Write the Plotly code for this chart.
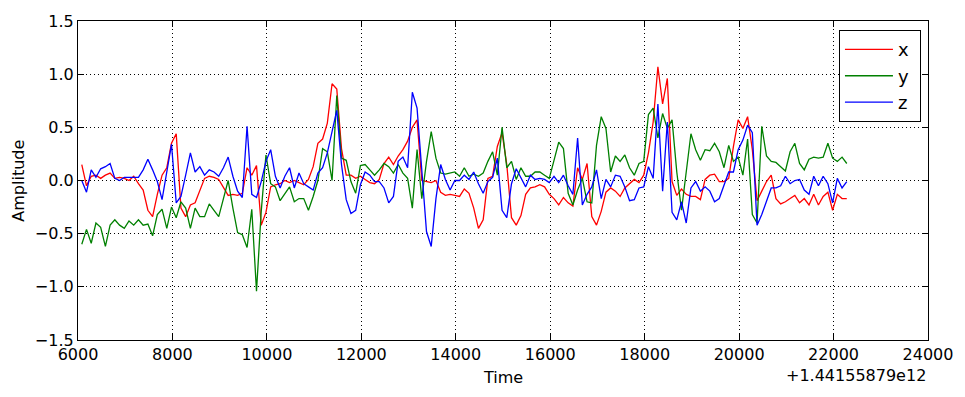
import plotly.graph_objects as go

# ── Data ──────────────────────────────────────────────────────────────────────
T_OFFSET = "+1.44155879e12"
# sample times (ms, relative to the offset above)
t = list(range(6080, 22281, 100))

x_vals = [
    0.15, -0.05, 0.04, 0.05, 0.02, 0.05, 0.07, 0.02, 0.03, 0.02,
    0.0, 0.04, -0.03, -0.09, -0.28, -0.34, -0.13, 0.05, 0.12, 0.35,
    0.44, -0.26, -0.34, -0.23, -0.21, -0.10, 0.02, 0.04, 0.03, 0.01,
    -0.06, -0.14, -0.13, -0.14, -0.12, 0.12, 0.05, 0.14, -0.42, -0.30,
    -0.06, -0.04, -0.03, 0.0, -0.02, 0.0, -0.02, -0.04, 0.01, 0.13,
    0.35, 0.39, 0.54, 0.91, 0.86, 0.30, 0.05, 0.05, 0.02, 0.04,
    0.01, -0.02, -0.03, 0.01, 0.16, 0.22, 0.15, 0.23, 0.29, 0.37,
    0.50, 0.57, 0.0, -0.01, -0.02, 0.0, -0.11, -0.14, -0.13, -0.14,
    -0.15, -0.08, -0.12, -0.26, -0.45, -0.37, 0.02, 0.04, 0.32, 0.45,
    0.15, -0.35, -0.42, -0.33, -0.13, -0.07, -0.06, -0.04, -0.06, -0.13,
    -0.17, -0.23, -0.16, -0.21, -0.24, 0.12, 0.01, 0.16, -0.34, -0.42,
    -0.29, -0.11, -0.07, -0.10, -0.15, -0.07, -0.03, 0.01, -0.02, 0.05,
    0.26, 0.55, 1.07, 0.72, 0.96, -0.01, -0.14, -0.08, -0.13, -0.15,
    -0.15, -0.18, 0.01, 0.05, 0.06, -0.01, -0.01, 0.02, 0.32, 0.57,
    0.49, 0.60, 0.29, -0.19, -0.10, -0.01, 0.05, -0.17, -0.22, -0.20,
    -0.17, -0.14, -0.21, -0.17, -0.23, -0.13, -0.23, -0.15, -0.11, -0.28,
    -0.13, -0.17, -0.17,
]

y_vals = [
    -0.60, -0.46, -0.59, -0.40, -0.44, -0.62, -0.42, -0.37, -0.42, -0.45,
    -0.38, -0.42, -0.37, -0.42, -0.41, -0.52, -0.32, -0.27, -0.45, -0.25,
    -0.35, -0.20, -0.26, -0.45, -0.26, -0.34, -0.34, -0.22, -0.28, -0.34,
    -0.17, 0.0, -0.26, -0.49, -0.51, -0.63, -0.27, -1.04, -0.29, 0.24,
    -0.03, -0.06, -0.19, -0.13, -0.06, -0.20, -0.17, -0.17, -0.28, -0.15,
    0.0, 0.30, 0.27, 0.0, 0.80, 0.21, 0.19, -0.01, -0.12, 0.14,
    0.15, 0.10, 0.05, 0.10, 0.16, 0.13, 0.07, 0.15, 0.07, 0.02,
    -0.26, 0.29, -0.17, 0.18, 0.46, 0.21, 0.07, 0.06, 0.07, 0.08,
    0.04, 0.12, 0.04, 0.06, 0.04, 0.07, 0.18, 0.27, 0.05, 0.50,
    0.12, 0.18, 0.01, 0.12, 0.04, 0.04, 0.08, 0.08, 0.05, 0.02,
    0.19, 0.36, 0.30, -0.12, -0.23, -0.09, 0.02, -0.20, -0.21, 0.33,
    0.60, 0.49, 0.08, 0.23, 0.18, 0.24, 0.12, 0.05, 0.16, 0.18,
    0.62, 0.68, 0.40, 0.63, 0.49, 0.57, 0.08, -0.28, 0.08, 0.44,
    0.29, 0.19, 0.29, 0.28, 0.35, 0.27, 0.12, 0.33, 0.18, 0.22,
    0.05, 0.39, -0.32, -0.40, 0.51, 0.23, 0.18, 0.17, 0.13, 0.09,
    0.27, 0.35, 0.16, 0.10, 0.20, 0.22, 0.21, 0.22, 0.35, 0.21,
    0.18, 0.22, 0.16,
]

z_vals = [
    0.0, -0.11, 0.10, 0.03, 0.11, 0.13, 0.16, 0.02, 0.0, 0.03,
    0.03, 0.03, 0.03, 0.10, 0.20, 0.10, -0.01, -0.18, 0.08, 0.34,
    -0.21, -0.15, 0.05, 0.26, 0.08, 0.13, 0.05, 0.10, 0.08, 0.04,
    0.12, 0.22, 0.04, -0.10, -0.16, 0.51, -0.13, -0.16, -0.01, 0.18,
    0.29, 0.04, -0.07, 0.04, 0.12, -0.07, 0.07, -0.03, -0.06, -0.09,
    0.07, 0.12, 0.26, 0.47, 0.66, 0.15, -0.18, -0.31, -0.28, -0.04,
    0.08, 0.05, -0.01, -0.01, -0.07, -0.21, -0.15, 0.18, 0.22, 0.12,
    0.83, 0.68, 0.05, -0.48, -0.62, -0.17, 0.15, 0.01, -0.09, 0.0,
    0.0, 0.05, 0.01, 0.08, -0.03, -0.12, -0.01, 0.03, 0.21, -0.28,
    -0.35, -0.03, 0.11, 0.02, -0.06, 0.05, 0.01, 0.02, 0.01, -0.02,
    0.04, -0.02, 0.05, -0.05, -0.13, 0.40, -0.23, -0.13, -0.06, 0.10,
    -0.17, 0.01, -0.06, 0.05, 0.04, -0.06, -0.19, -0.18, -0.07, -0.06,
    0.13, 0.02, 0.72, -0.10, 0.55, -0.30, -0.37, -0.20, -0.40, -0.07,
    -0.01, -0.10, -0.06, -0.10, -0.20, -0.17, -0.05, 0.08, 0.08, 0.29,
    0.38, 0.52, 0.45, -0.42, -0.32, -0.20, -0.07, -0.07, -0.05, 0.04,
    -0.03, 0.0, 0.01, -0.09, -0.13, 0.04, -0.05, 0.04, -0.03, -0.21,
    0.02, -0.07, -0.01,
]

SERIES = [("x", x_vals, "#ff0000"), ("y", y_vals, "#008000"), ("z", z_vals, "#0000ff")]
FONT = "DejaVu Sans"

fig = go.Figure()
for name, vals, color in SERIES:
    fig.add_trace(go.Scatter(
        x=t, y=vals, mode="lines", name=name + "\u00a0", legendgroup=name,
        line=dict(color=color, width=1.3),
    ))

axis_style = dict(
    showline=True, linecolor="black", linewidth=1.2, mirror="ticks",
    ticks="inside", ticklen=6, tickcolor="black",
    showgrid=True, gridcolor="black", griddash="1px,3px", gridwidth=1,
    zeroline=False, tickfont=dict(family=FONT, size=16, color="black"),
)

fig.update_layout(
    width=965, height=397,
    margin=dict(l=78, r=35, t=18, b=57),
    paper_bgcolor="white", plot_bgcolor="white",
    font=dict(family=FONT, size=16, color="black"),
    xaxis=dict(range=[6000, 24000], tick0=6000, dtick=2000, tickformat="d", **axis_style),
    yaxis=dict(range=[-1.5, 1.5], tick0=-1.5, dtick=0.5, tickformat=".1f", **axis_style),
    legend=dict(
        x=0.895, y=0.972, xanchor="left", yanchor="top",
        bgcolor="white", bordercolor="black", borderwidth=1.2,
        font=dict(family=FONT, size=18, color="black"),
        tracegroupgap=0, itemwidth=48,
    ),
    annotations=[
        dict(text="Time", xref="paper", yref="paper", x=0.5, y=-0.118,
             xanchor="center", yanchor="middle", showarrow=False),
        dict(text="Amplitude", xref="paper", yref="paper", x=-0.0704, y=0.5,
             xanchor="center", yanchor="middle", textangle=-90, showarrow=False),
        dict(text=T_OFFSET, xref="paper", yref="paper", x=1.0, y=-0.11,
             xanchor="right", yanchor="middle", showarrow=False),
    ],
)

fig.write_html("out.html", config={"displayModeBar": False},
               post_script="document.body.style.margin='0';")
